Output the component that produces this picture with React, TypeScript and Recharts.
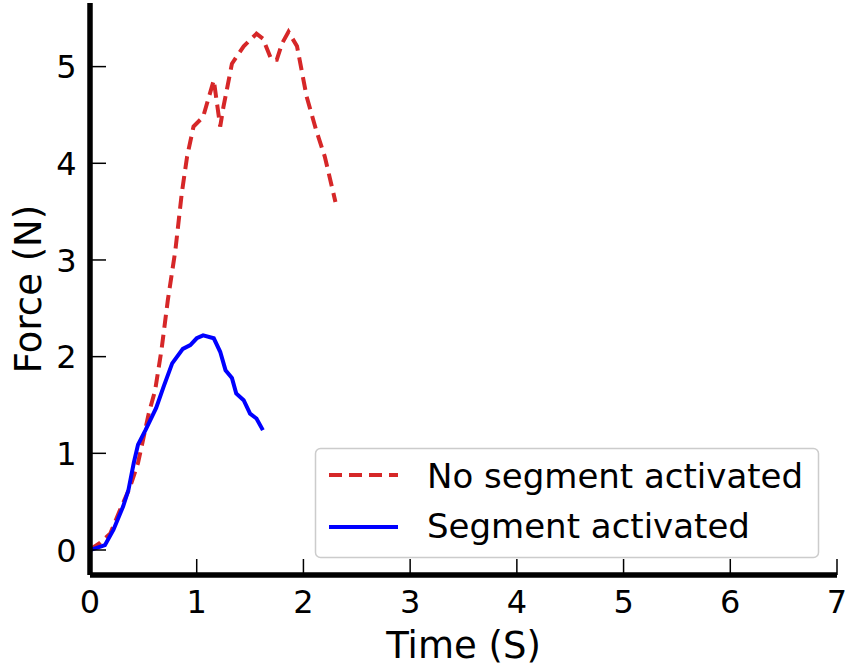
import React from "react";
import { LineChart, Line, XAxis, YAxis } from "recharts";

const noSegTime = [0, 0.02, 0.09, 0.19, 0.28, 0.375, 0.45, 0.55, 0.61, 0.67, 0.73, 0.8, 0.86, 0.91, 0.97, 1.06, 1.16, 1.22, 1.25, 1.33, 1.44, 1.56, 1.62, 1.7, 1.75, 1.8, 1.86, 1.94, 2.03, 2.12, 2.2, 2.23, 2.3];
const noSegForce = [0, 0.02, 0.07, 0.17, 0.41, 0.65, 0.9, 1.41, 1.65, 2.07, 2.59, 3.1, 3.69, 4.07, 4.38, 4.48, 4.86, 4.38, 4.58, 5.03, 5.21, 5.34, 5.29, 5.07, 5.07, 5.24, 5.36, 5.21, 4.69, 4.34, 4.07, 3.93, 3.6];

const segTime = [0, 0.14, 0.22, 0.31, 0.36, 0.41, 0.45, 0.52, 0.62, 0.69, 0.77, 0.87, 0.94, 1.0, 1.06, 1.16, 1.22, 1.27, 1.33, 1.37, 1.44, 1.5, 1.56, 1.62];
const segForce = [0, 0.05, 0.21, 0.45, 0.62, 0.9, 1.09, 1.24, 1.47, 1.69, 1.93, 2.08, 2.12, 2.19, 2.22, 2.19, 2.05, 1.86, 1.78, 1.62, 1.55, 1.41, 1.36, 1.24];

const xTicks = [0, 1, 2, 3, 4, 5, 6, 7];
const yTicks = [0, 1, 2, 3, 4, 5];

const seriesNames = ["No segment activated", "Segment activated"];
const RED = "#d62728";
const BLUE = "#0000ff";
const FONT = "DejaVu Sans";

const noSegData = noSegTime.map((t, i) => ({ t, f: noSegForce[i] }));
const segData = segTime.map((t, i) => ({ t, f: segForce[i] }));

const XTick = (props: any) => {
  const { x, y, payload } = props;
  return (
    <g>
      <line x1={x} x2={x} y1={y} y2={y - 16} stroke="#000" strokeWidth={1.5} />
      <text x={x} y={y + 38} textAnchor="middle" fontSize={32} fontFamily={FONT} fill="#000">
        {payload.value}
      </text>
    </g>
  );
};

const YTick = (props: any) => {
  const { x, y, payload } = props;
  return (
    <g>
      <line x1={x} x2={x + 16} y1={y} y2={y} stroke="#000" strokeWidth={1.5} />
      <text x={x - 13.5} y={y + 11.7} textAnchor="end" fontSize={32} fontFamily={FONT} fill="#000">
        {payload.value}
      </text>
    </g>
  );
};

export default function App() {
  return (
    <div style={{ position: "absolute", left: 0, top: 0, width: 845, height: 668, background: "#fff" }}>
      <LineChart width={845} height={668} margin={{ top: 3, right: 8, bottom: 0, left: 0 }}>
        <XAxis
          type="number"
          dataKey="t"
          domain={[0, 7]}
          ticks={xTicks}
          allowDataOverflow
          height={93}
          tickSize={0}
          tickMargin={0}
          tickLine={false}
          axisLine={{ stroke: "#000", strokeWidth: 5.5 }}
          tick={<XTick />}
          interval={0}
          label={(p: any) => {
            const vb = p.viewBox;
            return (
              <text x={vb.x + vb.width / 2} y={vb.y + 83} textAnchor="middle" fontSize={37} fontFamily={FONT} fill="#000">
                Time (S)
              </text>
            );
          }}
        />
        <YAxis
          type="number"
          dataKey="f"
          domain={[-0.2586, 5.658]}
          ticks={yTicks}
          allowDataOverflow
          width={90}
          tickSize={0}
          tickMargin={0}
          tickLine={false}
          axisLine={{ stroke: "#000", strokeWidth: 5.5 }}
          tick={<YTick />}
          interval={0}
          label={(p: any) => {
            const vb = p.viewBox;
            const cy = vb.y + vb.height / 2;
            return (
              <text x={41} y={cy} transform={`rotate(-90, 41, ${cy})`} textAnchor="middle" fontSize={37} fontFamily={FONT} fill="#000">
                Force (N)
              </text>
            );
          }}
        />
        <Line
          data={noSegData}
          dataKey="f"
          name={seriesNames[0]}
          type="linear"
          stroke={RED}
          strokeWidth={4}
          strokeDasharray="13 7"
          dot={false}
          isAnimationActive={false}
        />
        <Line
          data={segData}
          dataKey="f"
          name={seriesNames[1]}
          type="linear"
          stroke={BLUE}
          strokeWidth={4}
          dot={false}
          isAnimationActive={false}
        />
      </LineChart>
      <svg width={845} height={668} style={{ position: "absolute", left: 0, top: 0, pointerEvents: "none" }}>
        <rect x={315.5} y={448.5} width={503} height={109} rx={5} ry={5} fill="#fff" fillOpacity={0.8} stroke="#cccccc" strokeWidth={1.5} />
        <line x1={329} x2={398} y1={475} y2={475} stroke={RED} strokeWidth={4} strokeDasharray="13 7" />
        <text x={427} y={488} fontSize={34} fontFamily={FONT} fill="#000">{seriesNames[0]}</text>
        <line x1={329} x2={398} y1={527} y2={527} stroke={BLUE} strokeWidth={4} />
        <text x={427} y={538} fontSize={34} fontFamily={FONT} fill="#000">{seriesNames[1]}</text>
      </svg>
    </div>
  );
}
